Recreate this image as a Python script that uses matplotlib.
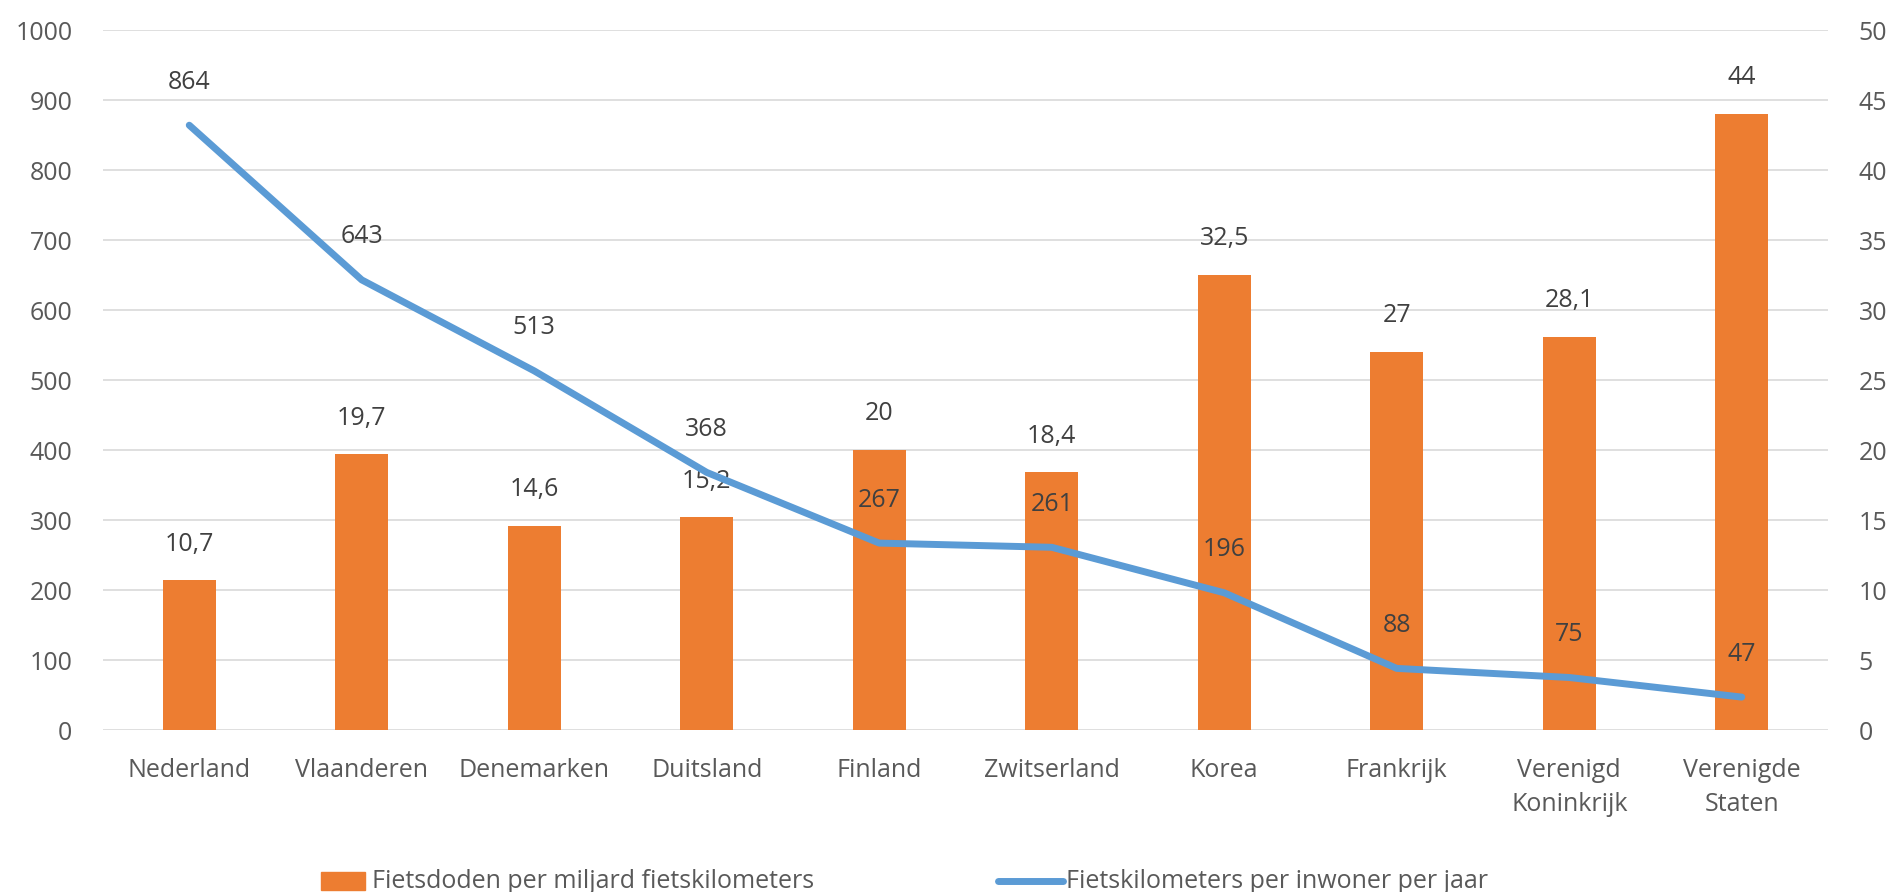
import matplotlib
matplotlib.use("Agg")
import matplotlib.pyplot as plt
from matplotlib.patches import Rectangle
from matplotlib.lines import Line2D
import numpy as np

# gegevens
landen = ['Nederland', 'Vlaanderen', 'Denemarken', 'Duitsland', 'Finland',
          'Zwitserland', 'Korea', 'Frankrijk', 'Verenigd\nKoninkrijk',
          'Verenigde\nStaten']
fietsdoden = [10.7, 19.7, 14.6, 15.2, 20, 18.4, 32.5, 27, 28.1, 44]
fietskm = [864, 643, 513, 368, 267, 261, 196, 88, 75, 47]

links_ticks = list(range(0, 1001, 100))
rechts_ticks = list(range(0, 51, 5))

ORANJE = '#ED7D31'
BLAUW = '#5B9BD5'
GRIJS = '#595959'
LABEL = '#404040'

plt.rcParams['font.family'] = ['Open Sans', 'DejaVu Sans']
plt.rcParams['font.size'] = 18

fig = plt.figure(figsize=(18.93, 8.92), dpi=100)
ax = fig.add_axes([103 / 1893, 1 - 730 / 892, 1725 / 1893, 700 / 892])
x = np.arange(len(landen))

# staven op de rechteras
ax.bar(x, fietsdoden, width=0.31, color=ORANJE, zorder=2)
ax.set_ylim(0, 50)
ax.set_yticks(rechts_ticks)
ax.set_xlim(-0.5, len(landen) - 0.5)
ax.set_xticks(x)
ax.set_xticklabels(landen, color=GRIJS, linespacing=1.5)
ax.grid(axis='y', color='#D9D9D9', linewidth=1.2, zorder=0)
ax.set_axisbelow(True)
for s in ax.spines.values():
    s.set_visible(False)

for xi, v in zip(x, fietsdoden):
    txt = f'{v:g}'.replace('.', ',')
    ax.annotate(txt, (xi, v), xytext=(0, 26), textcoords='offset points',
                ha='center', va='center', color=LABEL, fontsize=18)

# lijn op de linkeras
ax2 = ax.twinx()
ax2.plot(x, fietskm, color=BLAUW, linewidth=5, solid_capstyle='round',
         solid_joinstyle='round', zorder=3)
ax2.set_ylim(0, 1000)
ax2.set_yticks(links_ticks)
ax2.yaxis.tick_left()
ax2.tick_params(axis='y', length=0, colors=GRIJS, pad=22)
for s in ax2.spines.values():
    s.set_visible(False)

# twinx zet de ticks van ax naar links, dus hier terug naar rechts
ax.yaxis.tick_right()
ax.tick_params(axis='both', length=0, colors=GRIJS)
ax.tick_params(axis='x', pad=20)
ax.tick_params(axis='y', pad=22)

for xi, v in zip(x, fietskm):
    ax2.annotate(str(v), (xi, v), xytext=(0, 31), textcoords='offset points',
                 ha='center', va='center', color=LABEL, fontsize=18)

# legenda
fig.patches.append(Rectangle((321 / 1893, 1 - 890 / 892), 44 / 1893, 18 / 892,
                             transform=fig.transFigure, color=ORANJE))
fig.text(372 / 1893, 1 - 881 / 892, 'Fietsdoden per miljard fietskilometers',
         color=GRIJS, va='center', ha='left', fontsize=18)
fig.lines.append(Line2D([998 / 1893, 1063 / 1893], [1 - 881 / 892, 1 - 881 / 892],
                        transform=fig.transFigure, color=BLAUW, linewidth=5,
                        solid_capstyle='round'))
fig.text(1066 / 1893, 1 - 881 / 892, 'Fietskilometers per inwoner per jaar',
         color=GRIJS, va='center', ha='left', fontsize=18)

fig.savefig('out.png', dpi=100)
